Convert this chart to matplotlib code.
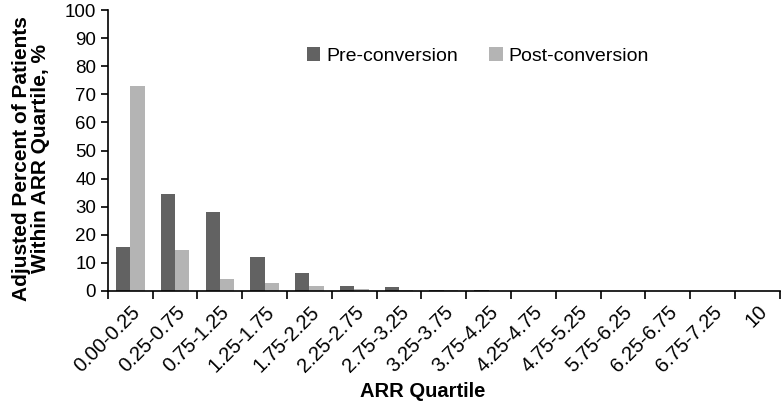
import numpy as np
import matplotlib.pyplot as plt

plt.rcParams['font.family'] = ['Liberation Sans', 'DejaVu Sans']

categories = ['0.00-0.25', '0.25-0.75', '0.75-1.25', '1.25-1.75', '1.75-2.25',
              '2.25-2.75', '2.75-3.25', '3.25-3.75', '3.75-4.25', '4.25-4.75',
              '4.75-5.25', '5.75-6.25', '6.25-6.75', '6.75-7.25', '10']
pre = [15.5, 34.5, 28.2, 12.0, 6.5, 1.6, 1.5, 0.2, 0.2, 0.1, 0.05, 0.1, 0.05, 0.0, 0.0]
post = [73.0, 14.5, 4.3, 2.7, 1.7, 0.8, 0.2, 0.2, 0.1, 0.05, 0.05, 0.1, 0.05, 0.0, 0.0]

fig = plt.figure(figsize=(7.82, 4.05), dpi=100)
ax = fig.add_axes([0.138, 0.2815, 0.859, 0.6935])

x = np.arange(len(categories))
w = 0.32
ax.bar(x - w / 2, pre, w, color='#626262', label='Pre-conversion')
ax.bar(x + w / 2, post, w, color='#b4b4b4', label='Post-conversion')

ax.set_xlim(-0.5, len(categories) - 0.5)
ax.set_ylim(0, 100)
ax.set_yticks(np.arange(0, 101, 10))
ax.tick_params(axis='y', labelsize=13.5, direction='out', length=5, width=1.2)

# tick marks between categories, labels at centres
ax.set_xticks(np.arange(len(categories) + 1) - 0.5)
ax.set_xticklabels([])
ax.set_xticks(x, minor=True)
ax.set_xticklabels(categories, minor=True, rotation=45, ha='right',
                   rotation_mode='anchor', fontsize=14.5)
ax.tick_params(axis='x', which='major', direction='out', length=6, width=1.2)
ax.tick_params(axis='x', which='minor', length=0, pad=8)

for s in ['top', 'right']:
    ax.spines[s].set_visible(False)
for s in ['left', 'bottom']:
    ax.spines[s].set_linewidth(1.2)

ax.set_xlabel('ARR Quartile', fontsize=14.5, fontweight='bold')
ax.xaxis.set_label_coords(0.469, -0.325)
ax.set_ylabel('Adjusted Percent of Patients\nWithin ARR Quartile, %',
              fontsize=15, fontweight='bold', linespacing=1.0)
ax.yaxis.set_label_coords(-0.086, 0.47)

ax.legend(loc='upper left', bbox_to_anchor=(0.27, 0.93), ncol=2, frameon=False,
          fontsize=14, handlelength=0.7, handleheight=0.7, handletextpad=0.3,
          columnspacing=1.6)

fig.savefig('out.png', dpi=100)
